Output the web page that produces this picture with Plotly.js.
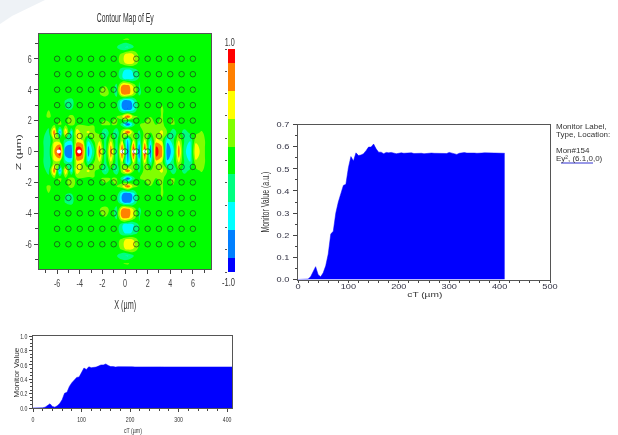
<!DOCTYPE html>
<html>
<head>
<meta charset="utf-8">
<script src="https://cdn.plot.ly/plotly-3.0.1.min.js"></script>
<style>html,body{margin:0;padding:0;background:#fff}#chart{width:618px;height:435px;filter:blur(0.45px)}</style>
</head>
<body>
<div id="chart"></div>
<script>
// ---- data ----
const fieldX = [-7.6,-7.25,-6.75,-6.25,-5.75,-5.25,-4.75,-4.25,-3.75,-3.25,-2.75,-2.25,-1.75,-1.25,-0.75,-0.25,0.25,0.75,1.25,1.75,2.25,2.75,3.25,3.75,4.25,4.75,5.25,5.75,6.25,6.75,7.25,7.6];
const fieldZUpper = [7.6,7.25,6.75,6.25,5.75,5.25,4.75,4.25,3.75,3.25,2.75,2.25,1.75,1.25,0.75,0.25];
// Ey x 100 for z = 7.25 down to z = 0.25 and x = -7.25 to 7.25; the map is mirrored about z = 0
const fieldUpper = [
 [0,0,0,0,0,0,0,0,0,0,0,0,0,3,12,15,5,0,0,0,0,0,0,0,0,0,0,0,0,0],
 [0,0,0,0,0,0,0,0,0,0,0,0,0,-10,-35,-40,-15,0,0,0,0,0,0,0,0,0,0,0,0,0],
 [0,0,0,0,0,0,0,0,0,0,0,0,0,-5,25,55,40,5,0,0,0,0,0,0,0,0,0,0,0,0],
 [0,0,0,0,0,0,0,0,0,0,0,0,0,0,25,55,40,5,0,0,0,0,0,0,0,0,0,0,0,0],
 [0,0,0,0,0,0,0,0,0,0,0,0,5,5,-30,-50,-30,-5,0,0,0,0,0,0,0,0,0,0,0,0],
 [0,0,0,0,0,0,0,0,0,0,0,3,8,10,-35,-55,-40,-10,5,0,0,0,0,0,0,0,0,0,0,0],
 [0,0,0,0,0,0,0,0,0,0,5,12,8,-20,68,75,30,-15,5,5,0,0,0,0,0,0,0,0,0,0],
 [0,0,0,0,0,0,0,0,0,5,12,20,8,-25,72,78,35,-20,5,12,5,0,0,0,0,0,0,0,0,0],
 [0,0,0,0,-15,-20,0,0,0,0,0,0,0,5,-60,-85,-45,10,0,10,0,10,0,0,0,0,0,0,0,0],
 [5,12,10,5,-12,-15,12,5,0,0,0,0,0,8,-60,-88,-50,12,-3,12,0,15,5,8,0,5,0,0,0,0],
 [8,15,8,10,5,20,5,10,3,8,3,8,3,12,35,95,25,8,5,12,3,15,3,12,3,8,0,3,0,0],
 [3,-5,8,15,5,22,5,12,5,12,10,18,12,15,-25,-95,-20,12,15,25,12,15,8,15,5,8,3,3,0,3],
 [-5,-20,85,-75,70,-50,60,20,45,15,5,-40,5,-40,30,95,15,-20,25,15,25,45,10,-35,5,-25,-5,5,15,5],
 [-10,-35,30,10,-20,-30,45,35,-30,15,30,-25,30,-25,30,-70,35,-35,40,-35,45,30,-50,-20,35,-15,-35,25,25,5],
 [-10,-30,55,95,-70,-80,95,85,-70,-15,75,-35,75,-40,85,-85,95,-85,95,-80,95,70,-85,-40,75,-30,-50,55,25,5]
];
const levelEdges = [-1,-0.875,-0.625,-0.375,-0.125,0.125,0.375,0.625,0.875,1];
const levelValues = [-1,-0.75,-0.5,-0.25,0,0.25,0.5,0.75,1];
const levelColors = ['#0000ff','#0080ff','#00ffff','#00ff80','#00ff00','#80ff00','#ffff00','#ff8000','#ff0000'];
const hotspotX = [-5.85,-4.05,-0.25,0.8,1.75];
const hotspotZ = [0,0,0,0,0];
const rodColumns = [-6,-5,-4,-3,-2,-1,1,2,3,4,5,6];
const rodRows = [6,5,4,3,2,1,-1,-2,-3,-4,-5,-6];
const centreRodX = [0,0,0,0,-2,-1,0,1,2];
const centreRodZ = [2,1,-1,-2,0,0,0,0,0];
const cT = [0,5,10,15,20,25,30,35,40,45,50,55,60,65,70,75,80,85,90,95,100,105,110,115,120,125,130,135,140,145,150,155,160,165,170,175,180,185,190,195,200,205,210,215,220,225,230,235,240,245,250,255,260,265,270,275,280,285,290,295,300,305,310,315,320,325,330,335,340,345,350,355,360,365,370,375,380,385,390,395,400,405,410];
const monitor = [0,0,0,0,0.002,0.012,0.032,0.058,0.022,0.012,0.03,0.062,0.115,0.205,0.218,0.3,0.35,0.385,0.425,0.43,0.505,0.555,0.535,0.572,0.56,0.562,0.568,0.582,0.598,0.598,0.612,0.59,0.575,0.575,0.568,0.574,0.572,0.574,0.572,0.568,0.57,0.572,0.57,0.571,0.57,0.572,0.569,0.57,0.571,0.57,0.568,0.57,0.572,0.571,0.57,0.57,0.571,0.572,0.57,0.569,0.574,0.571,0.569,0.565,0.57,0.572,0.573,0.571,0.572,0.573,0.571,0.57,0.569,0.571,0.572,0.572,0.571,0.57,0.572,0.571,0.57,0.57,0.57];
const legendLines = ['Monitor Label,','Type, Location:','Mon#154','Ey², (6.1,0,0)'];
const mapTicks = [-6,-4,-2,0,2,4,6];
const mapTickText = ['-6','-4','-2','0','2','4','6'];

// ---- helpers ----
const W = 618, H = 435;
const dx = (a,b) => [a/W, b/W];
const dy = (top,bottom) => [1-bottom/H, 1-top/H];
const SANS = '"Liberation Sans",Arial,sans-serif';
const scale = levelColors.map((c,i) => [i/(levelColors.length-1), c]);
const pad = r => [0].concat(r, [0]).map(v => v/100);
const blankRow = new Array(30).fill(0);
const upperRows = [blankRow].concat(fieldUpper).map(pad);
const field = upperRows.concat(upperRows.slice().reverse());
const fieldZ = fieldZUpper.concat(fieldZUpper.slice().reverse().map(v => -v));
const rodX = [], rodZ = [];
rodRows.forEach(z => rodColumns.forEach(x => { rodX.push(x); rodZ.push(z); }));
centreRodX.forEach((x,i) => { rodX.push(x); rodZ.push(centreRodZ[i]); });

const curve = (xa,ya) => ({type:'scatter', mode:'lines', x:cT, y:monitor, xaxis:xa, yaxis:ya, fill:'tozeroy', fillcolor:'#0000ff', line:{color:'#0000ff',width:0.5}, hoverinfo:'skip'});
const traces = [
 {type:'contour', x:fieldX, y:fieldZ, z:field, xaxis:'x', yaxis:'y', colorscale:scale, zmin:-1, zmax:1,
  autocontour:false, contours:{coloring:'fill', showlines:false, start:-0.875, end:0.875, size:0.25},
  line:{width:0, smoothing:1.3}, showscale:false, hoverinfo:'skip'},
 {type:'scatter', mode:'markers', x:hotspotX, y:hotspotZ, xaxis:'x', yaxis:'y', marker:{symbol:'circle', size:4, color:'#ffffff'}, hoverinfo:'skip'},
 {type:'scatter', mode:'markers', x:rodX, y:rodZ, xaxis:'x', yaxis:'y', opacity:0.8,
  marker:{symbol:'circle-open', size:5.5, color:'#222', line:{width:0.8, color:'#222'}}, hoverinfo:'skip'},
 {type:'heatmap', x:[0,1], y:levelEdges, z:levelValues.map(v => [v]), xaxis:'x2', yaxis:'y2',
  colorscale:scale, zmin:-1, zmax:1, showscale:false, hoverinfo:'skip'},
 curve('x3','y3'),
 curve('x4','y4')
];

const frame = {showline:true, mirror:true, linecolor:'#555', linewidth:1, zeroline:false, showgrid:false, ticks:'outside', tickcolor:'#444', tickwidth:1};
const ann = (x,y,text,size,extra) => Object.assign({xref:'paper',yref:'paper',x:x/W,y:1-y/H,text:text,showarrow:false,
  font:{size:size,family:SANS,color:'#333'},xanchor:'center',yanchor:'middle'},extra||{});

// [x, y, text, font size, target width in px, angle]
const labelSpecs = [
 [125,17,'Contour Map of Ey',13,57,0],
 [125,305,'X (µm)',12,22,0],
 [18,152,'Z (µm)',8,36,-90],
 [229,42,'1.0',11,10,0],
 [228,282,'-1.0',11,13,0],
 [265,202,'Monitor Value (a.u.)',11,61,-90],
 [424.5,294,'cT (µm)',8,35,0],
 [16,373,'Monitor Value',7,50,-90],
 [133,430,'cT (µm)',7.5,18,0]
];
const labelAnn = labelSpecs.map(s => ann(s[0],s[1],s[2],s[3],{textangle:s[5]}));
const legendAnn = legendLines.map((t,i) => ann(554,[126,134,150,158][i],t,8,{xanchor:'left'}));

const layout = {
 width:W, height:H, margin:{l:0,r:0,t:0,b:0}, paper_bgcolor:'#fff', plot_bgcolor:'#fff', showlegend:false,
 xaxis:Object.assign({},frame,{domain:dx(39,211), range:[-7.6,7.6], tickvals:mapTicks, ticktext:mapTickText, ticklen:4,
   minor:{dtick:1,ticks:'outside',ticklen:3,tickcolor:'#444'}, tickfont:{size:11,family:SANS,color:'#444'}}),
 yaxis:Object.assign({},frame,{domain:dy(34,269), range:[-7.6,7.6], tickvals:mapTicks, ticktext:mapTickText, ticklen:4,
   minor:{dtick:1,ticks:'outside',ticklen:3,tickcolor:'#444'}, tickfont:{size:11,family:SANS,color:'#444'}}),
 xaxis2:{domain:dx(228,235), range:[0,1], showticklabels:false, ticks:'', showgrid:false, zeroline:false, anchor:'y2'},
 yaxis2:{domain:dy(49,272), range:[-1,1], dtick:0.2, ticks:'outside', ticklen:2, tickcolor:'#555', showticklabels:false, showgrid:false, zeroline:false, anchor:'x2'},
 xaxis3:Object.assign({},frame,{domain:dx(298,550), range:[0,500], tick0:0, dtick:100, ticklen:2, anchor:'y3', ticklabelstandoff:-3,
   minor:{dtick:20,ticks:'outside',ticklen:2,tickcolor:'#444'}, tickfont:{size:8,family:SANS,color:'#334'}}),
 yaxis3:Object.assign({},frame,{domain:dy(124.5,279.5), range:[0,0.7], tick0:0, dtick:0.1, ticklen:4, anchor:'x3', tickformat:'.1f', ticklabelstandoff:2,
   minor:{dtick:0.05,ticks:'outside',ticklen:2,tickcolor:'#444'}, tickfont:{size:8,family:SANS,color:'#334'}}),
 xaxis4:Object.assign({},frame,{domain:dx(33,232), range:[0,410], tick0:0, dtick:100, ticklen:3, anchor:'y4',
   minor:{dtick:20,ticks:'outside',ticklen:2,tickcolor:'#444'}, tickfont:{size:8,family:SANS,color:'#333'}}),
 yaxis4:Object.assign({},frame,{domain:dy(336,408), range:[0,1], tick0:0, dtick:0.2, ticklen:3, anchor:'x4', tickformat:'.1f',
   minor:{dtick:0.05,ticks:'outside',ticklen:2,tickcolor:'#444'}, tickfont:{size:8,family:SANS,color:'#333'}}),
 annotations:labelAnn.concat(legendAnn),
 shapes:[
   {type:'line',xref:'paper',yref:'paper',x0:561/W,x1:593/W,y0:1-163/H,y1:1-163/H,line:{color:'#3030d0',width:1}},
   {type:'path',xref:'paper',yref:'paper',layer:'below',path:`M 0 1 L ${45/W} 1 L ${12/W} ${1-16/H} L 0 ${1-24/H} Z`,fillcolor:'#eef2f6',line:{width:0}}
 ]
};

// squeeze or widen text horizontally to the reference's lettering
function fit(el, target) {
  el.setAttribute('textLength', target);
  el.setAttribute('lengthAdjust', 'spacingAndGlyphs');
}
Plotly.newPlot('chart', traces, layout, {displayModeBar:false, staticPlot:true}).then(() => {
  const root = document.getElementById('chart');
  const used = new Set();
  root.querySelectorAll('.annotation-text').forEach(el => {
    const i = labelSpecs.findIndex((s,k) => s[2] === el.textContent && !used.has(k));
    if (i >= 0) { used.add(i); fit(el, labelSpecs[i][4]); }
  });
  root.querySelectorAll('.xtick text, .ytick text, .x4tick text, .y4tick text').forEach(el => {
    fit(el, el.getComputedTextLength() * 0.65);
  });
  root.querySelectorAll('.x3tick text, .y3tick text').forEach(el => {
    fit(el, el.getComputedTextLength() * 1.15);
  });
});
</script>
</body>
</html>
